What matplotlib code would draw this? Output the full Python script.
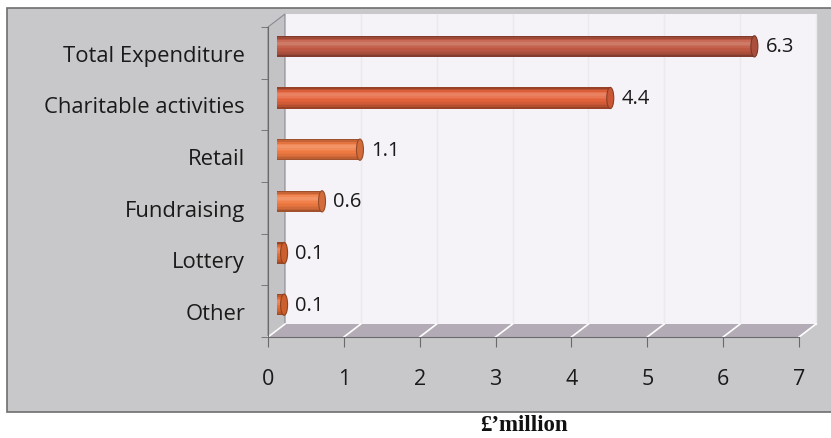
import matplotlib
matplotlib.use("Agg")
import matplotlib.pyplot as plt
from matplotlib.patches import Rectangle, Polygon, Ellipse
from matplotlib.transforms import ScaledTranslation
import matplotlib.colors as mcolors
import numpy as np

# data
categories = ["Total Expenditure", "Charitable activities", "Retail",
              "Fundraising", "Lottery", "Other"]
values = [6.3, 4.4, 1.1, 0.6, 0.1, 0.1]
bar_colors = ["#c25a44", "#e4633c", "#f07a42", "#f07a42", "#e86c34", "#e86c34"]
x_ticks = [0, 1, 2, 3, 4, 5, 6, 7]

W, H = 831, 439
fig = plt.figure(figsize=(W / 100, H / 100), dpi=100)
fig.patch.set_facecolor("white")

# grey chart panel
fig.patches.append(Rectangle((7 / W, 26 / H), 840 / W, 404 / H, transform=fig.transFigure,
                             facecolor="#c8c8ca", edgecolor="#6e6e6e", linewidth=1.2, zorder=-10))

# front plane of the 3D box
ax = fig.add_axes([268 / W, 101 / H, 531 / W, 310 / H])
ax.patch.set_visible(False)
ax.set_xlim(0, 7)
ax.set_ylim(len(categories) - 0.5, -0.5)

dxp, dyp = 17, 13          # depth in pixels
dxf, dyf = dxp / 531, dyp / 310

# back wall, left wall, floor
ax.add_patch(Rectangle((dxf, dyf), 1, 1, transform=ax.transAxes, facecolor="#f5f3f7",
                       edgecolor="none", clip_on=False, zorder=0))
ax.add_patch(Polygon([(0, 0), (dxf, dyf), (dxf, 1 + dyf), (0, 1)], transform=ax.transAxes,
                     facecolor="#c3c3c6", edgecolor="#8a8a90", linewidth=0.8,
                     clip_on=False, zorder=0.5))
ax.add_patch(Polygon([(0, 0), (1, 0), (1 + dxf, dyf), (dxf, dyf)], transform=ax.transAxes,
                     facecolor="#b3abb6", edgecolor="none", clip_on=False, zorder=0.5))
for t in x_ticks:
    xf = t / 7
    ax.plot([xf, xf + dxf], [0, dyf], transform=ax.transAxes, color="white", lw=1.2,
            clip_on=False, zorder=0.7)
    if 0 < t:
        ax.plot([xf + dxf, xf + dxf], [dyf, 1 + dyf], transform=ax.transAxes,
                color="#ebe8ee", lw=1.0, clip_on=False, zorder=0.2)

# bars, drawn halfway into the depth, with cylinder shading
half = ScaledTranslation(dxp / 2 / 100, dyp / 2 / 100, fig.dpi_scale_trans)
bar_tr = ax.transData + half
bh = 0.41
n = 14
profile = [0.66, 0.82, 0.95, 1.06, 1.12, 1.12, 1.08, 1.03, 0.99, 0.96, 0.92, 0.87, 0.79, 0.67]
ypos = np.arange(len(categories))
for i, (v, c) in enumerate(zip(values, bar_colors)):
    base = np.array(mcolors.to_rgb(c))
    for k in range(n):
        f = profile[k]
        col = np.clip(base * f if f < 1 else base + (1 - base) * (f - 1) * 1.6, 0, 1)
        yc = ypos[i] - bh / 2 + (k + 0.5) * bh / n
        ax.barh(yc, v, height=bh / n + 0.004, color=col, edgecolor="none",
                transform=bar_tr, zorder=2)
    ax.add_patch(Ellipse((v, ypos[i]), 7 / 75.86, bh, transform=bar_tr,
                         facecolor=base * 0.88, edgecolor=base * 0.62, linewidth=0.8, zorder=3))
    ax.text(v, ypos[i], f"{v}", transform=bar_tr + ScaledTranslation(0.11, 0, fig.dpi_scale_trans),
            va="center", ha="left", fontsize=14.5, family="Open Sans", color="#1a1a1a", zorder=4)

# axes lines and ticks
for s in ["top", "right"]:
    ax.spines[s].set_visible(False)
ax.spines["left"].set_color("#6a6a6a")
ax.spines["bottom"].set_color("#6a6a6a")
ax.set_xticks(x_ticks)
ax.set_xticklabels([str(t) for t in x_ticks], fontsize=15.5, family="Open Sans", color="#1a1a1a")
ax.tick_params(axis="x", direction="out", length=7, color="#6a6a6a", pad=15)

ax.set_yticks(ypos)
ax.set_yticklabels(categories, fontsize=15.8, family="Open Sans", color="#1a1a1a")
ax.tick_params(axis="y", length=0, pad=16.5)
ax.set_yticks(np.arange(-0.5, len(categories)), minor=True)
ax.tick_params(axis="y", which="minor", direction="out", length=5, color="#6a6a6a")

fig.text(524 / W, 1 - 426 / H, "\u00a3\u2019million", ha="center", va="center",
         fontsize=16.5, fontweight="bold", family="Liberation Serif", color="#111111")

fig.savefig("out.png", dpi=100)
